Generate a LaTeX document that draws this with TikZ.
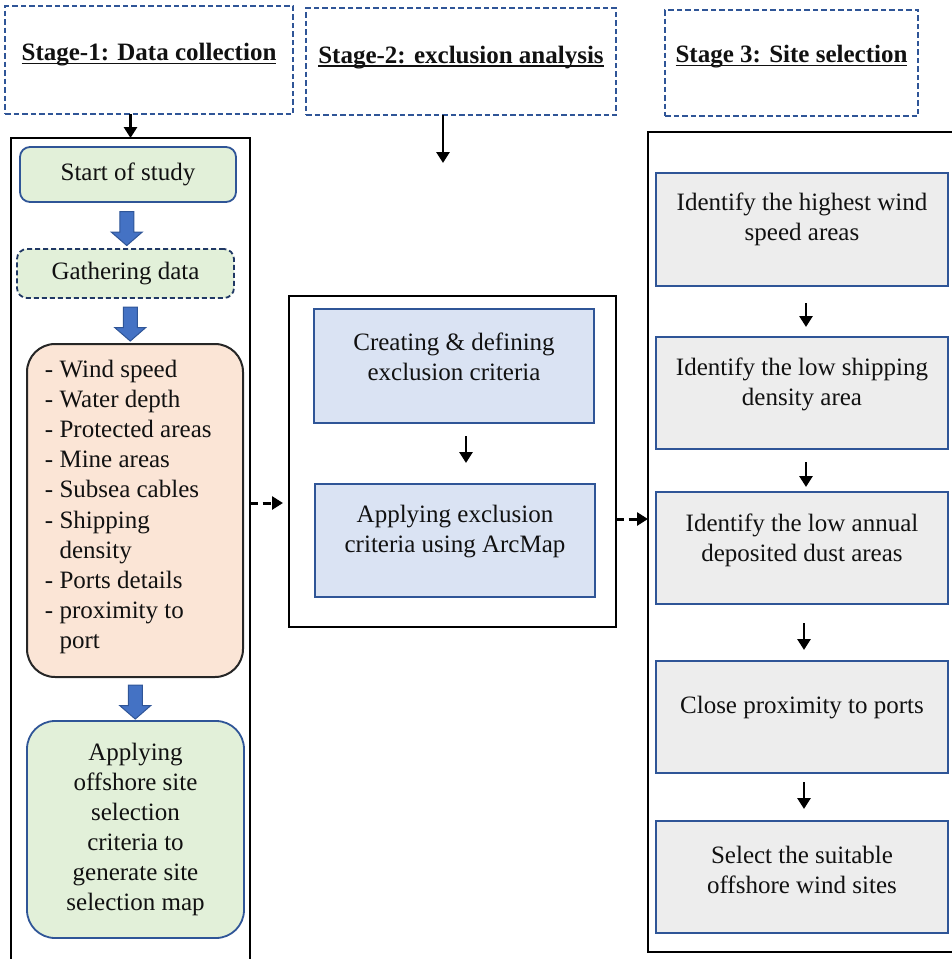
\documentclass[tikz,border=0pt]{standalone}
\usepackage{fontspec}
\setmainfont{Liberation Serif}
\usetikzlibrary{arrows.meta,shapes.arrows,calc}
\definecolor{dblue}{HTML}{2F5597}
\definecolor{navy}{HTML}{203864}
\definecolor{gfill}{HTML}{E2F0D9}
\definecolor{ofill}{HTML}{FBE5D6}
\definecolor{bfill}{HTML}{DAE3F3}
\definecolor{grfill}{HTML}{EDEDED}
\definecolor{arrfill}{HTML}{4472C4}
\definecolor{ink}{HTML}{111111}
\begin{document}
\begin{tikzpicture}[x=1pt,y=-1pt,
  every node/.style={inner sep=0pt, outer sep=0pt},
  txt/.style={font=\fontsize{25}{30}\selectfont, text=ink, align=center},
  hdtxt/.style={font=\bfseries\fontsize{25}{30}\selectfont, text=ink, anchor=base},
  hdbox/.style={draw=dblue, line width=2pt, dash pattern=on 5.5pt off 3pt},
  outerbox/.style={draw=black, line width=2.2pt},
  gbox/.style={txt, draw=dblue, fill=gfill, line width=1.8pt, rounded corners=10pt},
  gdash/.style={txt, draw=navy, fill=gfill, line width=1.8pt, rounded corners=10pt, dash pattern=on 5pt off 3pt},
  obox/.style={draw=black!85, fill=ofill, line width=2pt, rounded corners=28pt},
  bbox/.style={draw=dblue, fill=bfill, line width=1.8pt},
  grbox/.style={draw=dblue, fill=grfill, line width=1.8pt},
  blk/.style={draw=black, line width=2.8pt, -{Triangle[width=13pt,length=11pt]}},
  dasharr/.style={draw=black, line width=3pt, dash pattern=on 8pt off 4.5pt, -{Triangle[width=13pt,length=11pt]}},
  bigarrow/.style={single arrow, rotate=-90, draw=dblue, fill=arrfill, line width=1pt,
    minimum height=34pt, inner ysep=6.5pt, inner xsep=0pt,
    single arrow head extend=8.5pt, single arrow tip angle=98},
  ul/.style={draw=ink, line width=1.8pt}
]
\useasboundingbox (0,0) rectangle (952,959);

% headers
\node[hdbox, minimum width=288pt, minimum height=108pt] (h1) at (149,60) {};
\node[hdbox, minimum width=310pt, minimum height=107pt] (h2) at (461,61.5) {};
\node[hdbox, minimum width=253pt, minimum height=106pt] (h3) at (791.5,63) {};
\node[hdtxt] (h1t) at (149,60.5) {Stage-1: Data collection};
\node[hdtxt] (h2t) at (461,63) {Stage-2: exclusion analysis};
\node[hdtxt] (h3t) at (791.5,62.5) {Stage 3: Site selection};
\foreach \n in {h1t,h2t,h3t}
  \draw[ul] ([yshift=-3pt]\n.base west) -- ([yshift=-3pt]\n.base east);

% outer boxes
\node[outerbox, minimum width=239pt, minimum height=840pt] (lbox) at (130.5,558) {};
\node[outerbox, minimum width=327pt, minimum height=331pt] (mbox) at (452.5,461.5) {};
\node[outerbox, minimum width=310pt, minimum height=820pt] (rbox) at (803,542) {};

% left column
\node[gbox, minimum width=216pt, minimum height=55pt] (start) at (128,174.5) {Start of study};
\node[gdash, minimum width=217pt, minimum height=49pt] (gather) at (125.5,273.5) {Gathering data};
\node[obox, minimum width=216pt, minimum height=333pt] (list) at (135,510.5) {};
\node[txt, align=left, anchor=west, font=\fontsize{25}{30.2}\selectfont] (listt) at (45,507) {- Wind speed\\- Water depth\\- Protected areas\\- Mine areas\\- Subsea cables\\- Shipping\\\hphantom{- }density\\- Ports details\\- proximity to\\\hphantom{- }port};
\node[gbox, rounded corners=28pt, minimum width=217pt, minimum height=217pt] (apply) at (135.5,829.5) {Applying\\offshore site\\selection\\criteria to\\generate site\\selection map};

\node[bigarrow] (ba1) at ($(start.south)!0.5!(gather.north)$) {};
\node[bigarrow] (ba2) at ($(gather.south)!0.5!(list.north)$) {};
\node[bigarrow] (ba3) at ($(list.south)!0.5!(apply.north)$) {};

% middle column
\node[bbox, minimum width=280pt, minimum height=114pt] (ca) at (454,366) {};
\node[txt] (cat) at (454,356.5) {Creating \& defining\\exclusion criteria};
\node[bbox, minimum width=280pt, minimum height=113pt] (cb) at (455,540.5) {};
\node[txt] (cbt) at (455,532) {Applying exclusion\\criteria using ArcMap};

% right column
\node[grbox, minimum width=292pt, minimum height=113pt] (r1) at (802,229.5) {};
\node[txt] (r1t) at (802,219.5) {Identify the highest wind\\speed areas};
\node[grbox, minimum width=292pt, minimum height=112pt] (r2) at (802,393) {};
\node[txt] (r2t) at (802,384.5) {Identify the low shipping\\density area};
\node[grbox, minimum width=292pt, minimum height=112pt] (r3) at (802,548) {};
\node[txt] (r3t) at (802,540) {Identify the low annual\\deposited dust areas};
\node[grbox, minimum width=292pt, minimum height=112pt] (r4) at (802,717) {};
\node[txt] (r4t) at (802,708) {Close proximity to ports};
\node[grbox, minimum width=292pt, minimum height=112pt] (r5) at (802,877) {};
\node[txt] (r5t) at (802,870) {Select the suitable\\offshore wind sites};

% connectors
\draw[blk] (lbox.north |- h1.south) -- (lbox.north);
\coordinate (s2end) at (443,163);
\draw[blk] (s2end |- h2.south) -- (s2end);

\draw[blk, shorten <=13pt, shorten >=21pt] ([xshift=12pt]ca.south) -- ([xshift=12pt]ca.south |- cb.north);

\draw[blk, shorten <=17pt, shorten >=10pt] ([xshift=4pt]r1.south) -- ([xshift=4pt]r2.north);
\draw[blk, shorten <=13pt, shorten >=5pt] ([xshift=4pt]r2.south) -- ([xshift=4pt]r3.north);
\draw[blk, shorten <=19pt, shorten >=11pt] ([xshift=2pt]r3.south) -- ([xshift=2pt]r4.north);
\draw[blk, shorten <=9pt, shorten >=12pt] ([xshift=2pt]r4.south) -- ([xshift=2pt]r5.north);

\coordinate (d1) at (283,503);
\draw[dasharr, shorten >=6pt] (lbox.east |- d1) -- (mbox.west |- d1);
\coordinate (d2) at (648,519);
\draw[dasharr] (mbox.east |- d2) -- (rbox.west |- d2);
\end{tikzpicture}
\end{document}
